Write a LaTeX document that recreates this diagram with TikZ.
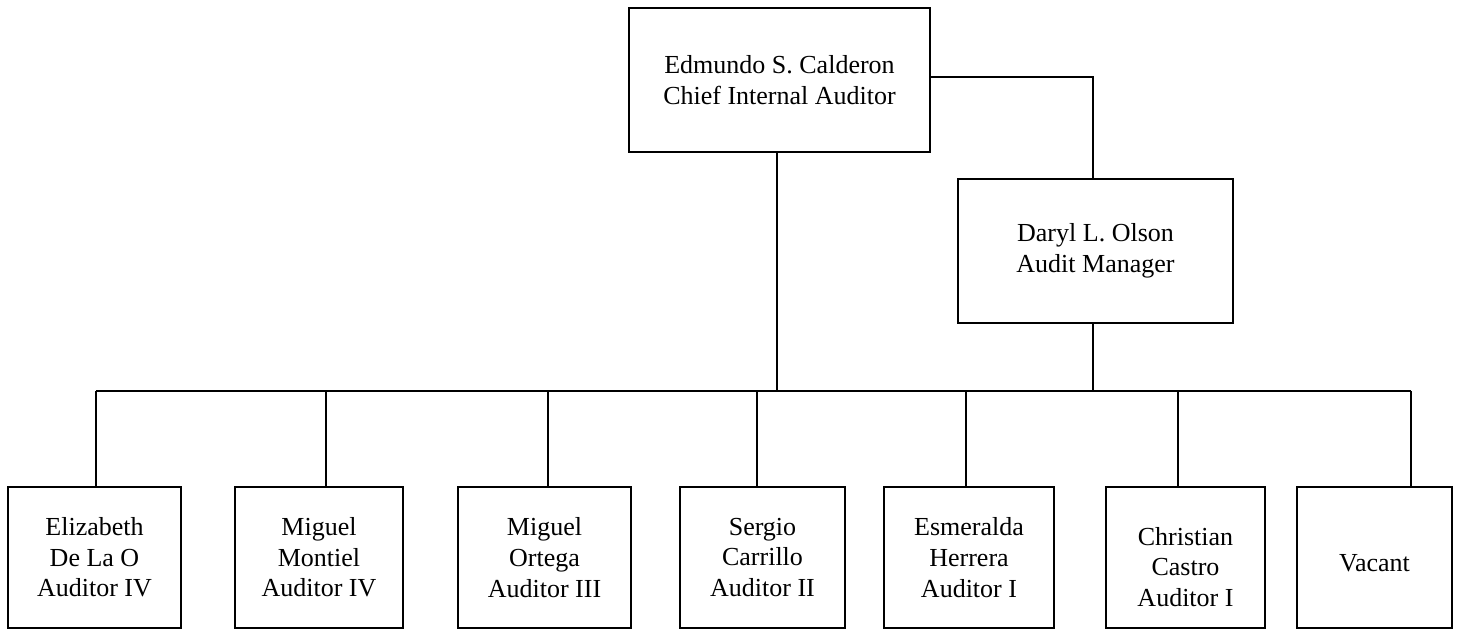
\documentclass[tikz,border=0pt]{standalone}
\usepackage{fontspec}
\setmainfont{Liberation Serif}
\begin{document}
\begin{tikzpicture}[x=0.75pt,y=-0.75pt,
  box/.style={draw,line width=1.4pt,rectangle,align=center,inner sep=0pt,
    font=\fontsize{19.5pt}{23pt}\selectfont},
  low/.style={box,minimum height=141*0.75pt},
  conn/.style={line width=1.4pt}]
\useasboundingbox (0,0) rectangle (1459,630);
\node[box,minimum width=301*0.75pt,minimum height=144*0.75pt] (top) at (779.5,80) {Edmundo S. Calderon\\Chief Internal Auditor};
\node[box,minimum width=275*0.75pt,minimum height=144*0.75pt] (mgr) at (1095.5,251) {Daryl L. Olson\\Audit Manager};
\node[low,minimum width=173*0.75pt] (b1) at (94.5,557.5) {Elizabeth\\De La O\\Auditor IV};
\node[low,minimum width=168*0.75pt] (b2) at (319,557.5) {Miguel\\Montiel\\Auditor IV};
\node[low,minimum width=173*0.75pt] (b3) at (544.5,557.5) {Miguel\\Ortega\\Auditor III};
\node[low,minimum width=165*0.75pt] (b4) at (762.5,557.5) {Sergio\\Carrillo\\Auditor II};
\node[low,minimum width=170*0.75pt] (b5) at (969,557.5) {Esmeralda\\Herrera\\Auditor I};
\node[low,minimum width=159*0.75pt] (b6) at (1185.5,557.5) {\raisebox{-7pt}[\height][\depth]{\parbox{90pt}{\centering Christian\\Castro\\Auditor I}}};
\node[low,minimum width=155*0.75pt] (b7) at (1374.5,557.5) {\raisebox{-4pt}[\height][\depth]{Vacant}};
\coordinate (t1) at (96,391);
\coordinate (t2) at (326,391);
\coordinate (t3) at (548,391);
\coordinate (t4) at (757,391);
\coordinate (t5) at (966,391);
\coordinate (t6) at (1178,391);
\coordinate (t7) at (1411,391);
\draw[conn] ([yshift=2.25pt]top.east) -| ([xshift=-1.9pt]mgr.north);
\draw[conn] (t1) -- (t7);
\draw[conn] ([xshift=-1.9pt]top.south) -- ([xshift=-1.9pt]top.south |- t1);
\draw[conn] ([xshift=-1.9pt]mgr.south) -- ([xshift=-1.9pt]mgr.south |- t1);
\foreach \i in {1,...,7} \draw[conn] (t\i) -- (t\i |- b\i.north);
\end{tikzpicture}
\end{document}
